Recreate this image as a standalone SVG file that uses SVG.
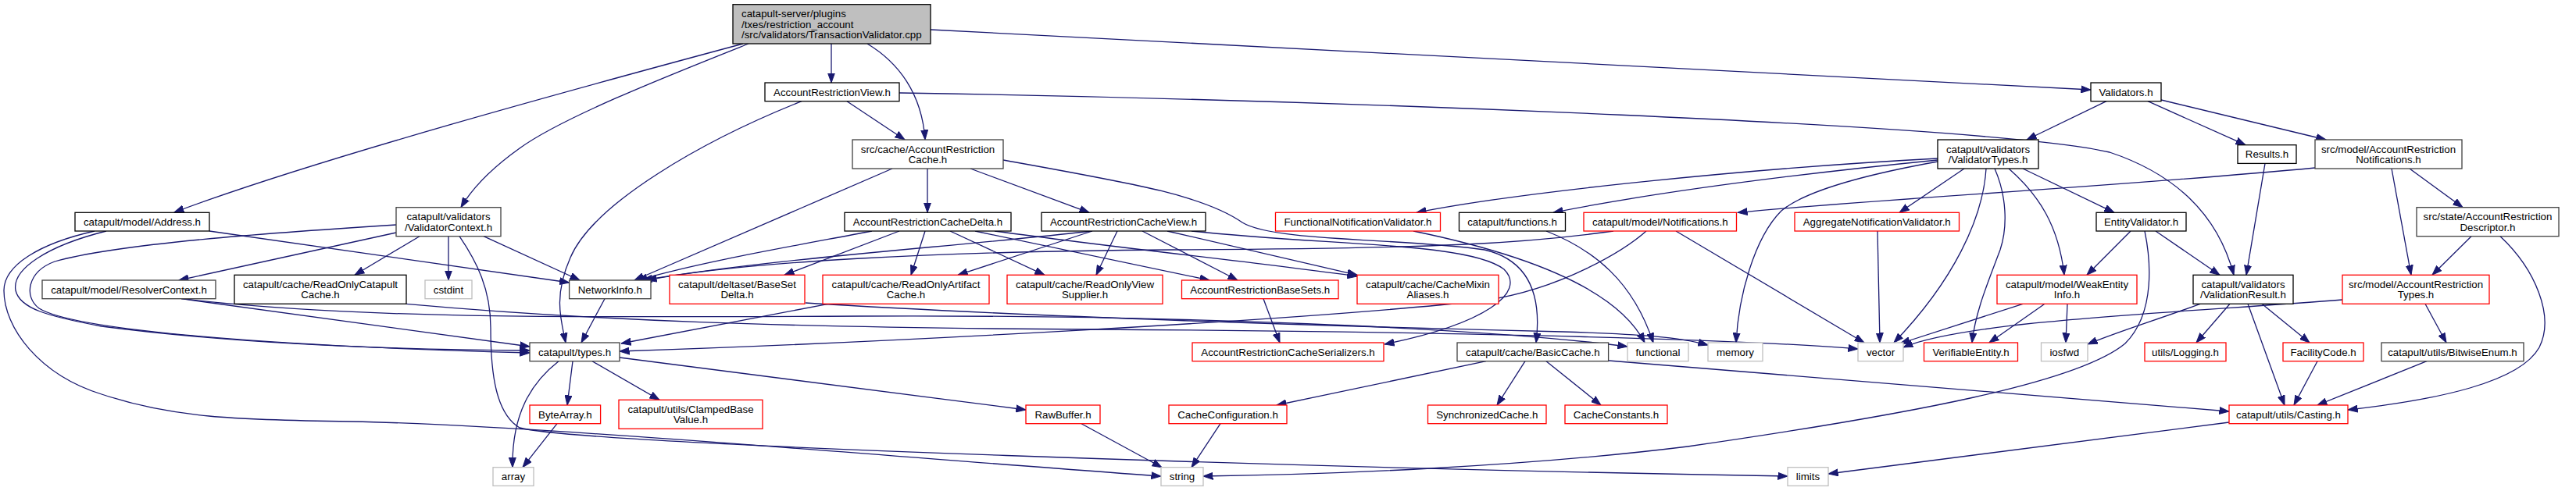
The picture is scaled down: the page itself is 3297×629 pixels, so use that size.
<svg xmlns="http://www.w3.org/2000/svg" width="3297" height="629" viewBox="0 0 3297 629">
<style>
.nd rect{fill:#fff;stroke:#000;stroke-width:1.3}
.nd.main rect{fill:#bfbfbf}
.nd.dk rect{stroke:#404040}
.nd.rd rect{stroke:#ff0000}
.nd.gr rect{stroke:#bfbfbf}
.nd text{font-family:"Liberation Sans",Arial,Helvetica,sans-serif;font-size:13.3px;fill:#000;text-anchor:middle}
.nd.main text{text-anchor:start}
.e path{fill:none;stroke:#191970;stroke-width:1.3;marker-end:url(#ah)}
</style>
<defs>
<marker id="ah" markerWidth="13" markerHeight="10" refX="12.5" refY="5" orient="auto" markerUnits="userSpaceOnUse">
<path d="M0,0.5 L12.5,5 L0,9.5 z" fill="#191970" stroke="#191970" stroke-width="1"/>
</marker>
</defs>
<rect x="0" y="0" width="3297" height="629" fill="#fff"/>
<g id="edges" class="e">
<path d="M951,56 C750,110 400,205 223,272"/>
<path d="M958,56 C860,95 720,150 665,190 C630,215 605,240 590,265.7"/>
<path d="M1064,56 L1064,106"/>
<path d="M1110,56 C1150,80 1180,120 1184,179"/>
<path d="M1191,38 L2676,115"/>
<path d="M1084,129.7 L1158,179"/>
<path d="M1026,129.7 C900,180 760,260 730,330 C708,380 718,410 724,439"/>
<path d="M1151,119 C1700,128 2550,160 2700,195 C2790,225 2840,280 2859,352.3"/>
<path d="M2696,129.7 L2594,179"/>
<path d="M2749,129.7 L2874,185.7"/>
<path d="M2766,128 L2977,179"/>
<path d="M1187,216 L1187,272.3"/>
<path d="M1242,216 L1394,272.3"/>
<path d="M1142,216 L812,359"/>
<path d="M1284,205 C1450,235 1540,250 1590,285 C1630,310 1800,305 1900,320 C1965,335 1972,390 1966,439"/>
<path d="M1525,296 C1700,315 1880,310 1925,345 C1955,375 1900,415 1772,441"/>
<path d="M1116,296 C1000,318 900,335 816,359"/>
<path d="M1151,296 L1004,352.3"/>
<path d="M1184,296 L1166,352.3"/>
<path d="M1216,296 L1337,352.3"/>
<path d="M1248,296 L1548,359"/>
<path d="M1273,296 C1450,320 1600,335 1737,354"/>
<path d="M1398,296 C1200,318 1000,330 822,359"/>
<path d="M1398,296 L1226,352.3"/>
<path d="M1430,296 L1403,352.3"/>
<path d="M1462,296 L1584,359"/>
<path d="M1494,296 L1737,352.3"/>
<path d="M2480,203 C2250,215 1950,245 1813,272.3"/>
<path d="M2480,205 C2250,228 2100,250 1988,272.3"/>
<path d="M2480,207 C2380,225 2310,245 2280,270 C2245,305 2225,380 2222,439"/>
<path d="M2514,216 L2431,272.3"/>
<path d="M2542,216 C2538,280 2500,360 2424,439"/>
<path d="M2553,216 C2568,250 2570,290 2560,320 C2545,360 2528,400 2524,439"/>
<path d="M2571,216 C2610,250 2635,290 2642,352.3"/>
<path d="M2589,216 L2706,272.3"/>
<path d="M2963,215 C2700,240 2400,255 2224,272.3"/>
<path d="M3061,216 L3086,352.3"/>
<path d="M3084,216 L3152,265.7"/>
<path d="M3163,302.7 L3113,352.3"/>
<path d="M3200,302.7 C3245,345 3270,405 3250,445 C3225,490 3120,512 3005,525"/>
<path d="M2998,384 C2800,400 2520,410 2436,445"/>
<path d="M3104,389.3 L3131,439"/>
<path d="M3106,462.7 L2966,519"/>
<path d="M2966,462.7 L2936,519"/>
<path d="M2854,389.3 L2811,439"/>
<path d="M2895,389.3 L2956,439"/>
<path d="M2877,389.3 L2924,519"/>
<path d="M2816,389.3 C2760,410 2710,425 2672,441"/>
<path d="M2853,541 L2340,607"/>
<path d="M2899,209.4 L2875,352.3"/>
<path d="M2727,296 L2671,352.3"/>
<path d="M2759,296 L2841,352.3"/>
<path d="M2745,296 C2752,330 2760,400 2720,440 C2660,490 2450,530 2160,572 C1950,598 1700,608 1540,610"/>
<path d="M2589,389.3 L2432,440"/>
<path d="M2617,389.3 L2546,439"/>
<path d="M2646,389.3 L2644,439"/>
<path d="M507,298 L229,359"/>
<path d="M537,302.7 L454,352.3"/>
<path d="M574,302.7 L574,359"/>
<path d="M619,302.7 L742,359"/>
<path d="M507,288 C350,298 150,312 70,335 C35,348 30,380 50,395 C90,420 300,442 678,452"/>
<path d="M588,302.7 C610,335 628,370 628,420 C628,480 635,530 665,548 C750,570 1700,600 2288,610"/>
<path d="M268,296 L728.6,362"/>
<path d="M136,296 C60,315 15,345 20,372 C25,395 60,405 130,418 C300,440 500,448 678,449"/>
<path d="M121,296 C50,312 5,340 5,372 C5,420 50,480 130,505 C220,535 300,538 450,540 C700,545 1200,590 1486,610"/>
<path d="M232,382.7 L678,444"/>
<path d="M232,382.7 C450,408 700,407 1100,405 C1500,403 1900,420 2083,444"/>
<path d="M520,389.3 C750,410 1000,420 1400,422 C1900,425 2250,436 2378,447"/>
<path d="M1031,388 C1300,405 1700,418 2000,425 C2100,428 2150,432 2186,442"/>
<path d="M774,382.7 L744,439"/>
<path d="M1060,389.3 C950,410 850,430 795,440"/>
<path d="M2107,296 C2080,320 2000,370 1900,385 C1650,412 1100,440 793,450"/>
<path d="M2065,296 C1950,312 1850,318 1500,320 C1200,322 950,335 828,359"/>
<path d="M2145,296 L2386,439"/>
<path d="M2403,296 L2406,439"/>
<path d="M1979,296 C2040,320 2090,360 2116,439"/>
<path d="M1809,296 C1950,325 2070,370 2105,439"/>
<path d="M1617,382.7 L1638,439"/>
<path d="M715,462.7 C680,490 655,530 656,598.7"/>
<path d="M733,462.7 L726,519"/>
<path d="M758,462.7 L844,512.3"/>
<path d="M793,458 L1313,525"/>
<path d="M713,542.7 L669,598.7"/>
<path d="M1384,542.7 L1487,598.7"/>
<path d="M1562,542.7 L1525,598.7"/>
<path d="M1902,462.7 L1634,519"/>
<path d="M1952,462.7 L1916,519"/>
<path d="M1979,462.7 L2049,519"/>
<path d="M2059,462 L2853,527"/>
</g>
<g id="n_main" class="nd main"><rect x="938" y="5.7" width="253" height="50.3"/><text x="949" y="22">catapult-server/plugins</text><text x="949" y="35.5">/txes/restriction_account</text><text x="949" y="49">/src/validators/TransactionValidator.cpp</text></g>
<g id="n_view" class="nd"><rect x="979" y="106" width="172" height="23.7"/><text x="1065" y="122.5">AccountRestrictionView.h</text></g>
<g id="n_validators" class="nd"><rect x="2676" y="106" width="90" height="23.7"/><text x="2721" y="122.5">Validators.h</text></g>
<g id="n_cache" class="nd dk"><rect x="1091" y="179" width="193" height="37"/><text x="1187.5" y="195.5">src/cache/AccountRestriction</text><text x="1187.5" y="209">Cache.h</text></g>
<g id="n_vtypes" class="nd"><rect x="2480" y="179" width="129" height="37"/><text x="2544.5" y="195.5">catapult/validators</text><text x="2544.5" y="209">/ValidatorTypes.h</text></g>
<g id="n_results" class="nd"><rect x="2864" y="185.7" width="75" height="23.7"/><text x="2901.5" y="202.2">Results.h</text></g>
<g id="n_arnotif" class="nd dk"><rect x="2963" y="179" width="188" height="37"/><text x="3057" y="195.5">src/model/AccountRestriction</text><text x="3057" y="209">Notifications.h</text></g>
<g id="n_address" class="nd"><rect x="96" y="272.3" width="172" height="23.7"/><text x="182" y="288.8">catapult/model/Address.h</text></g>
<g id="n_vctx" class="nd dk"><rect x="507" y="265.7" width="134" height="37"/><text x="574" y="282.2">catapult/validators</text><text x="574" y="295.6">/ValidatorContext.h</text></g>
<g id="n_delta" class="nd"><rect x="1081" y="272.3" width="213" height="23.7"/><text x="1187.5" y="288.8">AccountRestrictionCacheDelta.h</text></g>
<g id="n_cview" class="nd"><rect x="1333" y="272.3" width="210" height="23.7"/><text x="1438" y="288.8">AccountRestrictionCacheView.h</text></g>
<g id="n_fnv" class="nd rd"><rect x="1632.5" y="272.3" width="211" height="23.7"/><text x="1738" y="288.8">FunctionalNotificationValidator.h</text></g>
<g id="n_functions" class="nd"><rect x="1867.5" y="272.3" width="136" height="23.7"/><text x="1935.5" y="288.8">catapult/functions.h</text></g>
<g id="n_notif" class="nd rd"><rect x="2027" y="272.3" width="195.5" height="23.7"/><text x="2124.75" y="288.8">catapult/model/Notifications.h</text></g>
<g id="n_agg" class="nd rd"><rect x="2297" y="272.3" width="210.5" height="23.7"/><text x="2402.25" y="288.8">AggregateNotificationValidator.h</text></g>
<g id="n_entval" class="nd"><rect x="2683" y="272.3" width="115" height="23.7"/><text x="2740.5" y="288.8">EntityValidator.h</text></g>
<g id="n_desc" class="nd dk"><rect x="3093" y="265.7" width="182" height="37"/><text x="3184" y="282.2">src/state/AccountRestriction</text><text x="3184" y="295.6">Descriptor.h</text></g>
<g id="n_resolver" class="nd dk"><rect x="54" y="359" width="222" height="23.7"/><text x="165" y="375.5">catapult/model/ResolverContext.h</text></g>
<g id="n_rocc" class="nd"><rect x="300" y="352.3" width="220" height="37"/><text x="410" y="368.8">catapult/cache/ReadOnlyCatapult</text><text x="410" y="382.2">Cache.h</text></g>
<g id="n_cstdint" class="nd gr"><rect x="544" y="359" width="60" height="23.7"/><text x="574" y="375.5">cstdint</text></g>
<g id="n_netinfo" class="nd dk"><rect x="728.6" y="359" width="104.4" height="23.7"/><text x="780.8" y="375.5">NetworkInfo.h</text></g>
<g id="n_bsd" class="nd rd"><rect x="857" y="352.3" width="173" height="37"/><text x="943.5" y="368.8">catapult/deltaset/BaseSet</text><text x="943.5" y="382.2">Delta.h</text></g>
<g id="n_roac" class="nd rd"><rect x="1053" y="352.3" width="213" height="37"/><text x="1159.5" y="368.8">catapult/cache/ReadOnlyArtifact</text><text x="1159.5" y="382.2">Cache.h</text></g>
<g id="n_rovs" class="nd rd"><rect x="1289" y="352.3" width="199" height="37"/><text x="1388.5" y="368.8">catapult/cache/ReadOnlyView</text><text x="1388.5" y="382.2">Supplier.h</text></g>
<g id="n_basesets" class="nd rd"><rect x="1512.5" y="359" width="200.5" height="23.7"/><text x="1612.75" y="375.5">AccountRestrictionBaseSets.h</text></g>
<g id="n_mixin" class="nd rd"><rect x="1737" y="352.3" width="181" height="37"/><text x="1827.5" y="368.8">catapult/cache/CacheMixin</text><text x="1827.5" y="382.2">Aliases.h</text></g>
<g id="n_weak" class="nd rd"><rect x="2556" y="352.3" width="179" height="37"/><text x="2645.5" y="368.8">catapult/model/WeakEntity</text><text x="2645.5" y="382.2">Info.h</text></g>
<g id="n_vres" class="nd"><rect x="2807" y="352.3" width="128" height="37"/><text x="2871" y="368.8">catapult/validators</text><text x="2871" y="382.2">/ValidationResult.h</text></g>
<g id="n_artypes" class="nd rd"><rect x="2998" y="352.3" width="188" height="37"/><text x="3092" y="368.8">src/model/AccountRestriction</text><text x="3092" y="382.2">Types.h</text></g>
<g id="n_types" class="nd dk"><rect x="678" y="439" width="115" height="23.7"/><text x="735.5" y="455.5">catapult/types.h</text></g>
<g id="n_serial" class="nd rd"><rect x="1526" y="439" width="245" height="23.7"/><text x="1648.5" y="455.5">AccountRestrictionCacheSerializers.h</text></g>
<g id="n_basic" class="nd dk"><rect x="1865" y="439" width="193.6" height="23.7"/><text x="1961.8" y="455.5">catapult/cache/BasicCache.h</text></g>
<g id="n_functional" class="nd gr"><rect x="2083" y="439" width="78" height="23.7"/><text x="2122" y="455.5">functional</text></g>
<g id="n_memory" class="nd gr"><rect x="2186" y="439" width="70" height="23.7"/><text x="2221" y="455.5">memory</text></g>
<g id="n_vector" class="nd gr"><rect x="2378" y="439" width="58" height="23.7"/><text x="2407" y="455.5">vector</text></g>
<g id="n_verif" class="nd rd"><rect x="2462.5" y="439" width="120" height="23.7"/><text x="2522.5" y="455.5">VerifiableEntity.h</text></g>
<g id="n_iosfwd" class="nd gr"><rect x="2612.5" y="439" width="59.5" height="23.7"/><text x="2642.25" y="455.5">iosfwd</text></g>
<g id="n_logging" class="nd rd"><rect x="2745" y="439" width="104" height="23.7"/><text x="2797" y="455.5">utils/Logging.h</text></g>
<g id="n_facility" class="nd rd"><rect x="2922" y="439" width="103" height="23.7"/><text x="2973.5" y="455.5">FacilityCode.h</text></g>
<g id="n_bitwise" class="nd dk"><rect x="3048" y="439" width="182" height="23.7"/><text x="3139" y="455.5">catapult/utils/BitwiseEnum.h</text></g>
<g id="n_bytearray" class="nd rd"><rect x="678" y="519" width="90.6" height="23.7"/><text x="723.3" y="535.5">ByteArray.h</text></g>
<g id="n_clamped" class="nd rd"><rect x="792" y="512.3" width="184" height="37"/><text x="884" y="528.8">catapult/utils/ClampedBase</text><text x="884" y="542.2">Value.h</text></g>
<g id="n_rawbuf" class="nd rd"><rect x="1313" y="519" width="95" height="23.7"/><text x="1360.5" y="535.5">RawBuffer.h</text></g>
<g id="n_cacheconf" class="nd rd"><rect x="1496" y="519" width="151" height="23.7"/><text x="1571.5" y="535.5">CacheConfiguration.h</text></g>
<g id="n_sync" class="nd rd"><rect x="1827.5" y="519" width="151.5" height="23.7"/><text x="1903.25" y="535.5">SynchronizedCache.h</text></g>
<g id="n_cconst" class="nd rd"><rect x="2003" y="519" width="131" height="23.7"/><text x="2068.5" y="535.5">CacheConstants.h</text></g>
<g id="n_casting" class="nd rd"><rect x="2853" y="519" width="152" height="23.7"/><text x="2929" y="535.5">catapult/utils/Casting.h</text></g>
<g id="n_array" class="nd gr"><rect x="631" y="598.7" width="52" height="23.7"/><text x="657" y="615.2">array</text></g>
<g id="n_string" class="nd gr"><rect x="1486" y="598.7" width="54" height="23.7"/><text x="1513" y="615.2">string</text></g>
<g id="n_limits" class="nd gr"><rect x="2288" y="598.7" width="52" height="23.7"/><text x="2314" y="615.2">limits</text></g>
</svg>
